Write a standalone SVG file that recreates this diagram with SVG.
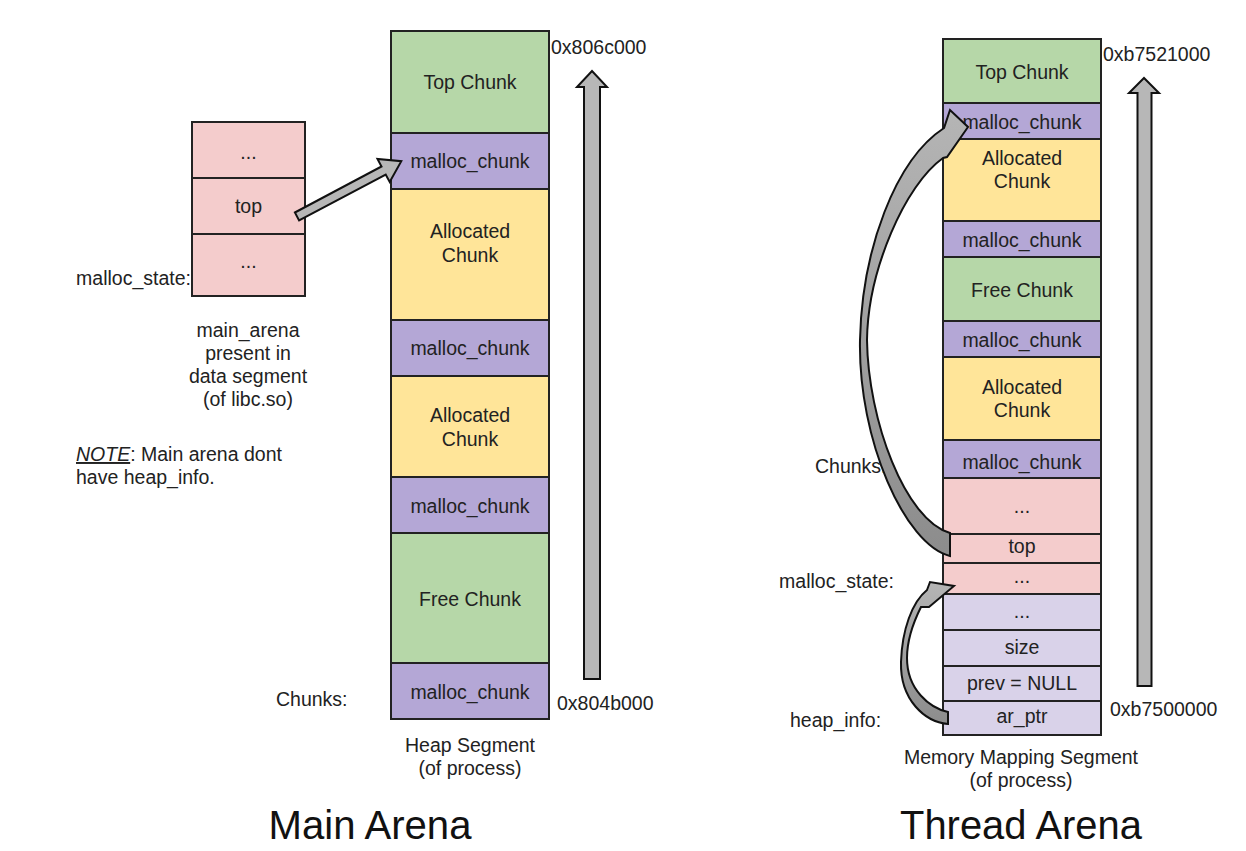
<svg xmlns="http://www.w3.org/2000/svg" width="1246" height="851" viewBox="0 0 1246 851">
<defs>
<style>
text{font-family:"Liberation Sans",Arial,sans-serif;font-size:19.5px;fill:#222}
.c{text-anchor:middle}
.e{text-anchor:end}
.big{font-size:41px;fill:#111}
.b{stroke:#222;stroke-width:2}
.g{fill:#b6d7a8}.p{fill:#b4a7d6}.y{fill:#ffe599}.k{fill:#f4cccc}.l{fill:#d9d2e9}
.arr{fill:#b7b7b7;stroke:#111;stroke-width:2;stroke-linejoin:miter}
.arc{fill:url(#gr);stroke:#111;stroke-width:2;stroke-linejoin:miter}
</style>
<linearGradient id="gr" x1="0" y1="0" x2="0" y2="1">
<stop offset="0" stop-color="#b5b5b5"/>
<stop offset="1" stop-color="#8c8c8c"/>
</linearGradient>
</defs>
<rect x="0" y="0" width="1246" height="851" fill="#fff"/>

<!-- Main arena: malloc_state box -->
<g id="main-malloc-state">
<rect class="b k" x="192" y="122" width="113" height="56"/>
<rect class="b k" x="192" y="178" width="113" height="56"/>
<rect class="b k" x="192" y="234" width="113" height="62"/>
<text class="c" x="248.5" y="159">...</text>
<text class="c" x="248.5" y="213">top</text>
<text class="c" x="248.5" y="268">...</text>
<text class="e" x="191" y="285">malloc_state:</text>
</g>
<g id="main-arena-note">
<text class="c" x="248" y="337">main_arena</text>
<text class="c" x="248" y="360">present in</text>
<text class="c" x="248" y="383">data segment</text>
<text class="c" x="248" y="406">(of libc.so)</text>
<text x="76" y="461"><tspan font-style="italic" text-decoration="underline">NOTE</tspan>: Main arena dont</text>
<text x="76" y="484">have heap_info.</text>
</g>

<!-- Heap segment column -->
<g id="heap-top-chunk"><rect class="b g" x="391" y="31" width="158" height="102"/><text class="c" x="470" y="89">Top Chunk</text></g>
<g id="heap-mc1"><rect class="b p" x="391" y="133" width="158" height="56"/><text class="c" x="470" y="168">malloc_chunk</text></g>
<g id="heap-alloc1"><rect class="b y" x="391" y="189" width="158" height="131"/><text class="c" x="470" y="238">Allocated</text><text class="c" x="470" y="262">Chunk</text></g>
<g id="heap-mc2"><rect class="b p" x="391" y="320" width="158" height="56"/><text class="c" x="470" y="355">malloc_chunk</text></g>
<g id="heap-alloc2"><rect class="b y" x="391" y="376" width="158" height="101"/><text class="c" x="470" y="422">Allocated</text><text class="c" x="470" y="446">Chunk</text></g>
<g id="heap-mc3"><rect class="b p" x="391" y="477" width="158" height="56"/><text class="c" x="470" y="513">malloc_chunk</text></g>
<g id="heap-free"><rect class="b g" x="391" y="533" width="158" height="130"/><text class="c" x="470" y="606">Free Chunk</text></g>
<g id="heap-mc4"><rect class="b p" x="391" y="663" width="158" height="56"/><text class="c" x="470" y="699">malloc_chunk</text></g>
<g id="heap-labels">
<text x="551" y="54">0x806c000</text>
<text x="557" y="710">0x804b000</text>
<text x="276" y="706">Chunks:</text>
<text class="c" x="470" y="752">Heap Segment</text>
<text class="c" x="470" y="775">(of process)</text>
<text class="c big" x="370" y="839" textLength="203" lengthAdjust="spacingAndGlyphs">Main Arena</text>
</g>

<!-- Thread arena column -->
<g id="thr-top-chunk"><rect class="b g" x="943" y="39" width="158" height="64"/><text class="c" x="1022" y="79">Top Chunk</text></g>
<g id="thr-mc1"><rect class="b p" x="943" y="103" width="158" height="36"/><text class="c" x="1022" y="129">malloc_chunk</text></g>
<g id="thr-alloc1"><rect class="b y" x="943" y="139" width="158" height="82"/><text class="c" x="1022" y="165">Allocated</text><text class="c" x="1022" y="188">Chunk</text></g>
<g id="thr-mc2"><rect class="b p" x="943" y="221" width="158" height="36"/><text class="c" x="1022" y="247">malloc_chunk</text></g>
<g id="thr-free"><rect class="b g" x="943" y="257" width="158" height="64"/><text class="c" x="1022" y="297">Free Chunk</text></g>
<g id="thr-mc3"><rect class="b p" x="943" y="321" width="158" height="36"/><text class="c" x="1022" y="347">malloc_chunk</text></g>
<g id="thr-alloc2"><rect class="b y" x="943" y="357" width="158" height="83"/><text class="c" x="1022" y="394">Allocated</text><text class="c" x="1022" y="417">Chunk</text></g>
<g id="thr-mc4"><rect class="b p" x="943" y="440" width="158" height="38"/><text class="c" x="1022" y="469">malloc_chunk</text></g>
<g id="thr-state-dots1"><rect class="b k" x="943" y="478" width="158" height="56"/><text class="c" x="1022" y="513">...</text></g>
<g id="thr-state-top"><rect class="b k" x="943" y="534" width="158" height="29"/><text class="c" x="1022" y="553">top</text></g>
<g id="thr-state-dots2"><rect class="b k" x="943" y="563" width="158" height="31"/><text class="c" x="1022" y="583">...</text></g>
<g id="thr-hi-dots"><rect class="b l" x="943" y="594" width="158" height="36"/><text class="c" x="1022" y="618">...</text></g>
<g id="thr-hi-size"><rect class="b l" x="943" y="630" width="158" height="36"/><text class="c" x="1022" y="654">size</text></g>
<g id="thr-hi-prev"><rect class="b l" x="943" y="666" width="158" height="35"/><text class="c" x="1022" y="690">prev = NULL</text></g>
<g id="thr-hi-arptr"><rect class="b l" x="943" y="701" width="158" height="34"/><text class="c" x="1022" y="723">ar_ptr</text></g>
<g id="thr-labels">
<text x="1103" y="61">0xb7521000</text>
<text x="1110" y="716">0xb7500000</text>
<text x="815" y="473">Chunks:</text>
<text class="e" x="894" y="588">malloc_state:</text>
<text x="790" y="727">heap_info:</text>
<text class="c" x="1021" y="764">Memory Mapping Segment</text>
<text class="c" x="1021" y="787">(of process)</text>
<text class="c big" x="1021" y="839" textLength="242" lengthAdjust="spacingAndGlyphs">Thread Arena</text>
</g>

<!-- connectors -->
<g id="connectors">
<polygon class="arr" points="584,679 584,87 577,87 592,71 607,87 600,87 600,679"/>
<polygon class="arr" points="1137.5,686 1137.5,93 1129,93 1144,78 1159,93 1151.5,93 1151.5,686"/>
<polygon class="arr" points="294.9,212.5 381.5,166.5 377.5,159 401.3,161.2 389.7,182 385.7,174.5 299.1,220.5"/>
<path class="arc" d="M950,556 C905,545 858,440 860,340 C862,250 895,160 944,128 L950,110 L968,127 L947,157 L943,158 C905,185 868,270 867,340 C868,420 905,520 950,533 Z"/>
<path class="arc" d="M948,724 C925,722 900,700 901,662 C902,630 912,602 927,590 L930,582 L954,586 L929,607 L921,607 C912,625 907,640 907,658 C907,690 930,708 948,712 Z"/>
</g>
</svg>
